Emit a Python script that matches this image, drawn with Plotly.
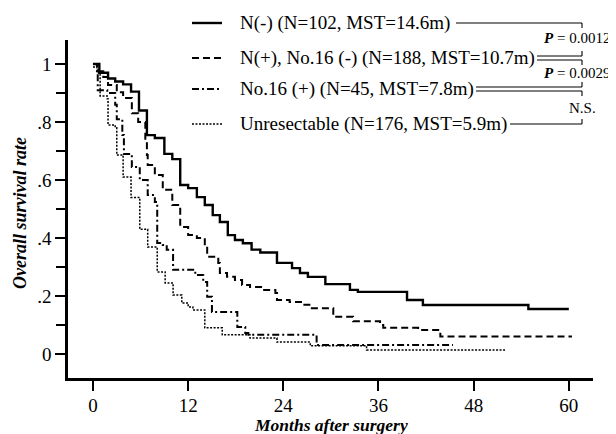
import plotly.graph_objects as go

# ---------------- data ----------------
months_nneg = [0, 0.8, 1.9, 2.8, 3.8, 4.8, 5.8, 6.8, 7.8, 9.0, 10.0, 11.0, 12.0, 13.1, 14.1, 15.1,
               16.0, 17.0, 17.9, 18.9, 20.0, 21.1, 23.2, 25.1, 26.1, 27.1, 29.3, 32.4, 33.4,
               39.6, 41.6, 54.9, 60]
surv_nneg = [1.0, 0.97, 0.95, 0.94, 0.93, 0.905, 0.84, 0.755, 0.745, 0.69, 0.672, 0.583, 0.572,
             0.541, 0.514, 0.479, 0.455, 0.41, 0.393, 0.382, 0.36, 0.35, 0.314, 0.296, 0.279,
             0.266, 0.241, 0.221, 0.214, 0.186, 0.169, 0.155, 0.155]

months_npos = [0, 0.5, 1.3, 1.9, 3.0, 3.8, 4.9, 5.7, 6.6, 6.8, 6.9, 7.8, 8.8, 10.0, 11.0, 12.0,
               13.1, 14.1, 14.4, 15.8, 16.0, 16.9, 17.9, 18.8, 19.8, 21.4, 23.0, 23.2, 24.8,
               26.5, 27.6, 30.3, 32.8, 36.2, 36.6, 41.0, 43.8, 60.4]
surv_npos = [1.0, 0.975, 0.955, 0.928, 0.903, 0.883, 0.83, 0.80, 0.738, 0.686, 0.652, 0.617,
             0.566, 0.514, 0.438, 0.41, 0.40, 0.37, 0.335, 0.314, 0.279, 0.266, 0.255, 0.238,
             0.231, 0.221, 0.21, 0.186, 0.179, 0.17, 0.158, 0.128, 0.113, 0.10, 0.09, 0.083,
             0.06, 0.06]

months_no16 = [0, 0.6, 1.8, 2.8, 3.0, 3.7, 3.9, 4.9, 5.9, 6.9, 7.8, 8.1, 8.8, 9.3, 10.1, 12.9,
               13.9, 14.4, 15.0, 18.2, 19.2, 19.6, 28.2, 45.4]
surv_no16 = [1.0, 0.91, 0.90, 0.86, 0.81, 0.755, 0.69, 0.645, 0.60, 0.548, 0.524, 0.383, 0.376,
             0.359, 0.29, 0.272, 0.248, 0.197, 0.145, 0.093, 0.072, 0.066, 0.031, 0.031]

months_unres = [0, 0.5, 0.9, 1.8, 1.9, 2.8, 3.0, 3.8, 4.8, 5.9, 6.9, 8.1, 9.1, 10.1, 11.2, 12.0,
                12.6, 14.1, 16.3, 19.8, 23.2, 27.4, 34.5, 52.0]
surv_unres = [0.99, 0.97, 0.89, 0.88, 0.79, 0.78, 0.686, 0.61, 0.54, 0.43, 0.369, 0.283, 0.245,
              0.203, 0.176, 0.162, 0.152, 0.09, 0.066, 0.055, 0.041, 0.028, 0.014, 0.014]

group_labels = ["N(-) (N=102, MST=14.6m)",
                "N(+), No.16 (-) (N=188, MST=10.7m)",
                "No.16 (+) (N=45, MST=7.8m)",
                "Unresectable (N=176, MST=5.9m)"]
p_labels = ["<b><i>P</i></b> = 0.0012", "<b><i>P</i></b> = 0.0029", "N.S."]

x_ticks = [0, 12, 24, 36, 48, 60]
y_ticks = [0, 0.2, 0.4, 0.6, 0.8, 1.0]
y_ticktext = ["0", ".2", ".4", ".6", ".8", "1"]

# ---------------- figure ----------------
# the page body has an 8px margin, so the figure is a bit smaller than the window
OFF = 8
W, H = 616 - OFF, 434 - OFF
PLOT_X0, PLOT_X1 = 68, 593      # page pixels of the plot area
PLOT_Y0, PLOT_Y1 = 40, 378
L = PLOT_X0 - OFF
T = PLOT_Y0 - OFF
R = W - (PLOT_X1 - OFF)
B = H - (PLOT_Y1 - OFF)
PW, PH = PLOT_X1 - PLOT_X0, PLOT_Y1 - PLOT_Y0
SERIF = "Liberation Serif, Times New Roman, serif"


def px(x):
    return (x - PLOT_X0) / PW


def py(y):
    return (PLOT_Y1 - y) / PH


styles = [
    dict(dash="solid", width=2.4),
    dict(dash="7px,4px", width=2.0),
    dict(dash="7px,3px,2px,3px", width=2.0),
    dict(dash="2px,1.5px", width=1.5),
]
series = [(months_nneg, surv_nneg), (months_npos, surv_npos),
          (months_no16, surv_no16), (months_unres, surv_unres)]

fig = go.Figure()
for (t, s), st, name in zip(series, styles, group_labels):
    fig.add_trace(go.Scatter(x=t, y=s, mode="lines", name=name, showlegend=False,
                             line=dict(color="black", width=st["width"], dash=st["dash"],
                                       shape="hv")))

shapes = []
annotations = []

# legend rows (drawn by hand, like the original figure)
row_y = [23, 58, 89, 124]
for yy, st, lab in zip(row_y, styles, group_labels):
    shapes.append(dict(type="line", xref="paper", yref="paper",
                       x0=px(192), x1=px(222), y0=py(yy), y1=py(yy),
                       line=dict(color="black", width=st["width"], dash=st["dash"])))
    annotations.append(dict(xref="paper", yref="paper", x=px(238), y=py(yy),
                            xanchor="left", yanchor="middle", showarrow=False, text=lab,
                            font=dict(family=SERIF, size=19, color="black")))

# comparison brackets
bx = 582
thin = dict(color="black", width=1.1)
bracket_segments = [
    (456, bx, 23, 23), (bx, bx, 23, 28),
    (537, bx, 56, 56), (bx, bx, 56, 51),
    (537, bx, 60, 60), (bx, bx, 60, 65),
    (476, bx, 87, 87), (bx, bx, 87, 82),
    (476, bx, 91, 91), (bx, bx, 91, 96),
    (510, bx, 124, 124), (bx, bx, 124, 119),
]
for x0, x1, y0, y1 in bracket_segments:
    shapes.append(dict(type="line", xref="paper", yref="paper",
                       x0=px(x0), x1=px(x1), y0=py(y0), y1=py(y1), line=thin))

for lab, yy in zip(p_labels, [38, 73, 108]):
    if lab == "N.S.":
        annotations.append(dict(xref="paper", yref="paper", x=px(582), y=py(yy),
                                xanchor="center", yanchor="middle", showarrow=False, text=lab,
                                font=dict(family=SERIF, size=15, color="black")))
    else:
        annotations.append(dict(xref="paper", yref="paper", x=px(612), y=py(yy),
                                xanchor="right", yanchor="middle", showarrow=False, text=lab,
                                font=dict(family=SERIF, size=15, color="black")))

# axis titles
annotations.append(dict(xref="paper", yref="paper", x=px(331), y=py(425),
                        xanchor="center", yanchor="middle", showarrow=False,
                        text="<b><i>Months after surgery</i></b>",
                        font=dict(family=SERIF, size=17.5, color="black")))
annotations.append(dict(xref="paper", yref="paper", x=px(20), y=py(213),
                        xanchor="center", yanchor="middle", showarrow=False, textangle=-90,
                        text="<b><i>Overall survival rate</i></b>",
                        font=dict(family=SERIF, size=18, color="black")))

fig.update_layout(
    width=W, height=H,
    margin=dict(l=L, r=R, t=T, b=B, pad=0),
    paper_bgcolor="white", plot_bgcolor="white",
    shapes=shapes, annotations=annotations,
    xaxis=dict(range=[-3.15, 63.05], tickmode="array", tickvals=x_ticks,
               showline=True, linecolor="black", linewidth=2.5,
               ticks="outside", ticklen=10, tickwidth=2, tickcolor="black",
               ticklabelstandoff=-2,
               showgrid=False, zeroline=False,
               tickfont=dict(family=SERIF, size=19, color="black")),
    yaxis=dict(range=[-0.083, 1.083], tickmode="array", tickvals=y_ticks,
               ticktext=y_ticktext,
               showline=True, linecolor="black", linewidth=2.5,
               ticks="outside", ticklen=10, tickwidth=2, tickcolor="black",
               showgrid=False, zeroline=False,
               minor=dict(tickvals=[0.1, 0.3, 0.5, 0.7, 0.9], ticks="outside",
                          ticklen=9, tickwidth=2, tickcolor="black", showgrid=False),
               tickfont=dict(family=SERIF, size=19, color="black")),
)

fig.write_html("out.html")
